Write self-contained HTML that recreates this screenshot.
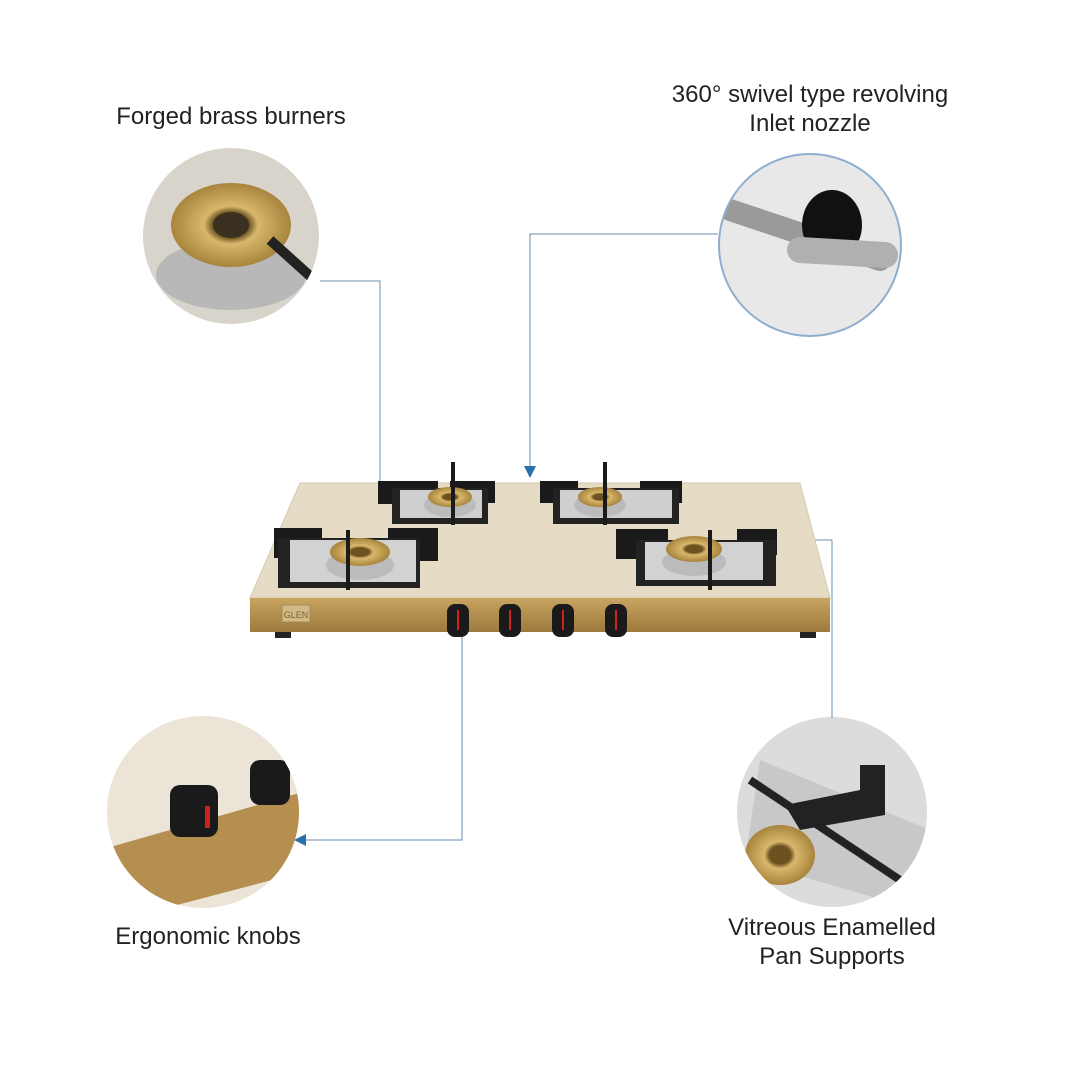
<!DOCTYPE html>
<html><head><meta charset="utf-8"><style>
body{margin:0;background:#fff;}
svg{display:block;}
text{font-family:"Liberation Sans",sans-serif;fill:#222;font-size:24px;}
</style></head><body>
<svg width="1080" height="1080" viewBox="0 0 1080 1080">
<defs>
<marker id="a" markerWidth="12" markerHeight="12" refX="6" refY="6" orient="auto" markerUnits="userSpaceOnUse"><path d="M0,0 L12,6 L0,12z" fill="#2a6fa8"/></marker>
<radialGradient id="brass" cx="50%" cy="50%" r="50%"><stop offset="0.3" stop-color="#6b5220"/><stop offset="0.45" stop-color="#d8b86c"/><stop offset="1" stop-color="#a8843c"/></radialGradient>
<linearGradient id="gold" x1="0" y1="0" x2="0" y2="1"><stop offset="0" stop-color="#c9a462"/><stop offset="1" stop-color="#9c7a3c"/></linearGradient>
<clipPath id="c1"><circle cx="231" cy="236" r="88"/></clipPath>
<clipPath id="c2"><circle cx="810" cy="245" r="91"/></clipPath>
<clipPath id="c3"><circle cx="203" cy="812" r="96"/></clipPath>
<clipPath id="c4"><circle cx="832" cy="812" r="95"/></clipPath>
</defs>
<text x="231" y="124" text-anchor="middle">Forged brass burners</text>
<text x="810" y="102" text-anchor="middle">360° swivel type revolving</text>
<text x="810" y="131" text-anchor="middle">Inlet nozzle</text>
<text x="208" y="944" text-anchor="middle">Ergonomic knobs</text>
<text x="832" y="935" text-anchor="middle">Vitreous Enamelled</text>
<text x="832" y="964" text-anchor="middle">Pan Supports</text>

<g clip-path="url(#c1)">
<rect x="140" y="145" width="185" height="185" fill="#d8d4cc"/>
<ellipse cx="231" cy="275" rx="75" ry="35" fill="#b8b8b8"/>
<ellipse cx="231" cy="225" rx="60" ry="42" fill="url(#brass)"/>
<ellipse cx="231" cy="225" rx="18" ry="13" fill="#3a3020"/>
<path d="M270,240 L320,285" stroke="#222" stroke-width="10"/>
</g>
<g clip-path="url(#c2)">
<rect x="715" y="150" width="190" height="190" fill="#e8e8e8"/>
<path d="M730,210 L880,260" stroke="#9a9a9a" stroke-width="22" stroke-linecap="round"/>
<ellipse cx="832" cy="225" rx="30" ry="35" fill="#111"/>
<path d="M800,250 L885,255" stroke="#b0b0b0" stroke-width="26" stroke-linecap="round"/>
</g>
<circle cx="810" cy="245" r="91" fill="none" stroke="#8eaed0" stroke-width="2"/>
<g clip-path="url(#c3)">
<rect x="100" y="710" width="210" height="210" fill="#ece4d6"/>
<path d="M100,850 L310,790 L310,870 L120,920 Z" fill="#b58f50"/>
<rect x="170" y="785" width="48" height="52" rx="10" fill="#1a1a1a"/>
<rect x="205" y="806" width="5" height="22" fill="#d02020"/>
<rect x="250" y="760" width="40" height="45" rx="10" fill="#1a1a1a"/>
</g>
<g clip-path="url(#c4)">
<rect x="730" y="710" width="210" height="210" fill="#dcdcdc"/>
<path d="M760,760 L930,830 L900,905 L745,860 Z" fill="#c8c8c8"/>
<ellipse cx="780" cy="855" rx="35" ry="30" fill="url(#brass)"/>
<path d="M785,805 L860,790 L860,765 L885,765 L885,815 L800,830 Z" fill="#222"/>
<path d="M750,780 L900,880" stroke="#222" stroke-width="8"/>
</g>

<g stroke="#6d8fb0" stroke-width="1" fill="none">
<path d="M320,281 H380 V536" marker-end="url(#a)"/>
<path d="M718,234 H530 V472" marker-end="url(#a)"/>
<path d="M462,637 V840 H300" marker-end="url(#a)"/>
<path d="M832,718 V540 H780" marker-end="url(#a)"/>
</g>

<path d="M300,483 H800 L830,598 H250 Z" fill="#e6dcc6" stroke="#d4c8ae"/>
<rect x="250" y="598" width="580" height="34" fill="url(#gold)"/>
<rect x="282" y="605" width="28" height="17" fill="#d2ba86" stroke="#a58a55"/>
<text x="296" y="618" text-anchor="middle" style="font-size:9px;fill:#7a6030">GLEN</text>
<rect x="275" y="632" width="16" height="6" fill="#222"/><rect x="800" y="632" width="16" height="6" fill="#222"/>
<g fill="#1a1a1a">
<rect x="378" y="481" width="60" height="23"/><rect x="450" y="481" width="45" height="22"/>
<rect x="540" y="481" width="38" height="22"/><rect x="640" y="481" width="42" height="22"/>
<rect x="274" y="528" width="48" height="30"/><rect x="388" y="528" width="50" height="33"/>
<rect x="616" y="529" width="52" height="30"/><rect x="737" y="529" width="40" height="26"/>
</g>
<rect x="392" y="488" width="96" height="36" fill="#222"/><rect x="400" y="490" width="82" height="28" fill="#cfcfcf"/>
<rect x="553" y="488" width="126" height="36" fill="#222"/><rect x="560" y="490" width="112" height="28" fill="#cfcfcf"/>
<rect x="278" y="538" width="142" height="50" fill="#222"/><rect x="290" y="540" width="126" height="42" fill="#d2d2d2"/>
<rect x="636" y="540" width="140" height="46" fill="#222"/><rect x="645" y="542" width="118" height="38" fill="#d2d2d2"/>
<ellipse cx="450" cy="505" rx="26" ry="12" fill="#bbb"/><ellipse cx="450" cy="497" rx="22" ry="10" fill="url(#brass)"/>
<ellipse cx="600" cy="505" rx="26" ry="12" fill="#bbb"/><ellipse cx="600" cy="497" rx="22" ry="10" fill="url(#brass)"/>
<ellipse cx="360" cy="565" rx="34" ry="15" fill="#bbb"/><ellipse cx="360" cy="552" rx="30" ry="14" fill="url(#brass)"/>
<ellipse cx="694" cy="562" rx="32" ry="14" fill="#bbb"/><ellipse cx="694" cy="549" rx="28" ry="13" fill="url(#brass)"/>
<g stroke="#1a1a1a" stroke-width="4">
<path d="M453,462 V525"/><path d="M605,462 V525"/><path d="M348,530 V590"/><path d="M710,530 V590"/>
</g>
<g>
<rect x="447" y="604" width="22" height="33" rx="8" fill="#1a1a1a"/><rect x="457" y="610" width="2" height="20" fill="#d02020"/>
<rect x="499" y="604" width="22" height="33" rx="8" fill="#1a1a1a"/><rect x="509" y="610" width="2" height="20" fill="#d02020"/>
<rect x="552" y="604" width="22" height="33" rx="8" fill="#1a1a1a"/><rect x="562" y="610" width="2" height="20" fill="#d02020"/>
<rect x="605" y="604" width="22" height="33" rx="8" fill="#1a1a1a"/><rect x="615" y="610" width="2" height="20" fill="#d02020"/>
</g>
</svg>
</body></html>
